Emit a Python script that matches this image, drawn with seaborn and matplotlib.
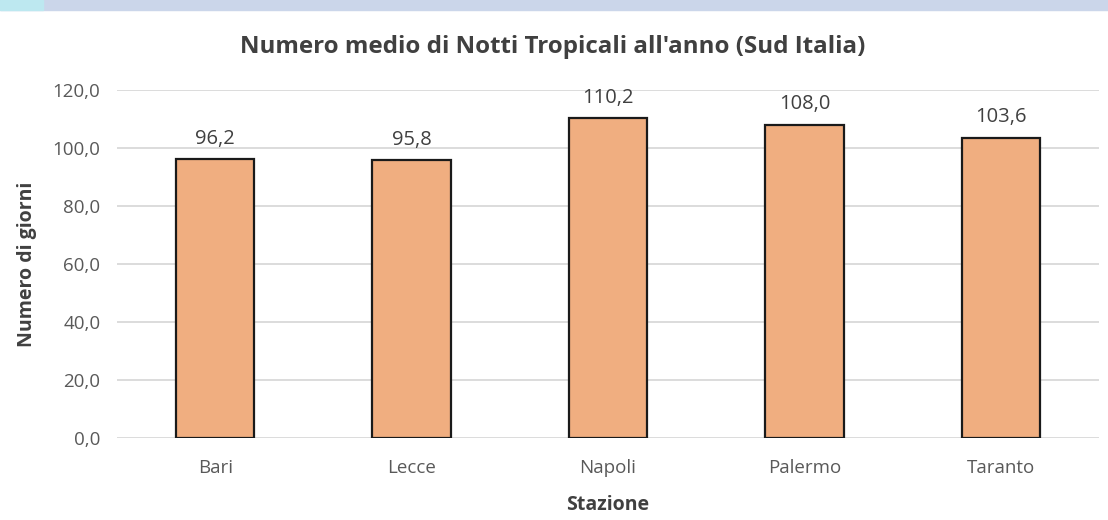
import matplotlib
matplotlib.use("Agg")
import matplotlib.pyplot as plt
import seaborn as sns
import pandas as pd
from matplotlib.patches import Rectangle

stations = ["Bari", "Lecce", "Napoli", "Palermo", "Taranto"]
values = [96.2, 95.8, 110.2, 108.0, 103.6]
yticks = [0, 20, 40, 60, 80, 100, 120]

sns.set_style("white")
plt.rcParams['font.family'] = ['Open Sans', 'DejaVu Sans']

df = pd.DataFrame({"Stazione": stations, "Giorni": values})

fig = plt.figure(figsize=(11.08, 5.20), dpi=100)
# top band
fig.patches.append(Rectangle((0, 1 - 10/520), 1, 10/520, transform=fig.transFigure,
                             color="#cbd6ea", zorder=0))
fig.patches.append(Rectangle((0, 1 - 10/520), 43/1108, 10/520, transform=fig.transFigure,
                             color="#bde8f0", zorder=1))

ax = fig.add_axes([117/1108, 1 - 438/520, 982/1108, 348/520])
sns.barplot(data=df, x="Stazione", y="Giorni", color="#f0ae80", width=0.4,
            edgecolor="#1a1a1a", linewidth=1.6, saturation=1, ax=ax, zorder=3)
ax.set_ylim(0, 120)
ax.set_xlim(-0.5, 4.5)
ax.set_yticks(yticks)
ax.set_yticklabels([f"{v:.1f}".replace(".", ",") for v in yticks])
ax.yaxis.grid(True, color="#d9d9d9", linewidth=1.3, zorder=0)
ax.set_axisbelow(True)
for s in ax.spines.values():
    s.set_visible(False)
ax.tick_params(axis="both", length=0, colors="#595959", labelsize=13.5)
ax.tick_params(axis="x", pad=15)
ax.tick_params(axis="y", pad=12)

for i, v in enumerate(values):
    ax.text(i, v + 7, f"{v:.1f}".replace(".", ","), ha="center", va="center",
            color="#404040", fontsize=14.5)

ax.set_xlabel("Stazione", fontsize=14, fontweight="bold", color="#404040", labelpad=13)
ax.set_ylabel("Numero di giorni", fontsize=14, fontweight="bold", color="#404040", labelpad=11)
fig.text(553/1108, 1 - 47/520, "Numero medio di Notti Tropicali all'anno (Sud Italia)",
         ha="center", va="center", fontsize=17.4, fontweight="bold", color="#404040")

fig.savefig("out.png", dpi=100)
